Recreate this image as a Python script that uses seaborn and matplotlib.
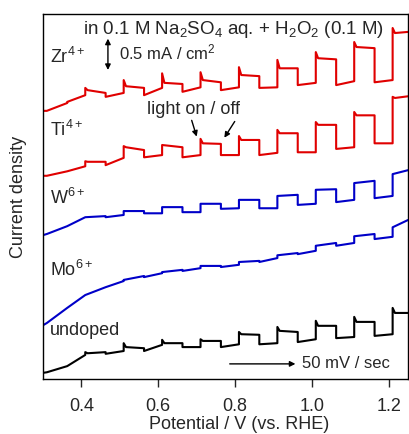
import numpy as np
import pandas as pd
import matplotlib
matplotlib.use('Agg')
import matplotlib.pyplot as plt
import seaborn as sns

sns.set_style('ticks')
plt.rcParams['font.family'] = ['Liberation Sans', 'DejaVu Sans']
plt.rcParams['mathtext.fontset'] = 'custom'
plt.rcParams['mathtext.rm'] = 'Liberation Sans'
plt.rcParams['mathtext.it'] = 'Liberation Sans'
plt.rcParams['font.size'] = 13

# chopped light: on / off potentials (V vs. RHE)
V_start = 0.30
V_on = [0.31, 0.41, 0.51, 0.61, 0.71, 0.81, 0.91, 1.01, 1.11, 1.21]
V_off = [0.363, 0.463, 0.563, 0.663, 0.763, 0.863, 0.963, 1.063, 1.163, 1.25]

# current density (mA/cm2, traces stacked with offsets)
undoped_start = 0.11
undoped_dark_on = [0.12, 0.43, 0.50, 0.61, 0.57, 0.62, 0.64, 0.71, 0.75, 0.80]
undoped_spike = [0.12, 0.48, 0.64, 0.70, 0.71, 0.84, 0.93, 1.04, 1.11, 1.27]
undoped_light_on = [0.12, 0.46, 0.57, 0.64, 0.68, 0.80, 0.86, 0.95, 1.02, 1.18]
undoped_light_off = [0.23, 0.48, 0.55, 0.64, 0.68, 0.79, 0.84, 0.95, 1.02, 1.18]
undoped_dark_off = [0.23, 0.45, 0.50, 0.57, 0.57, 0.62, 0.66, 0.73, 0.77, np.nan]

mo_start = 0.96
mo_dark_on = [1.00, 1.50, 1.75, 1.89, 1.98, 2.04, 2.16, 2.29, 2.43, 2.54]
mo_light_on = [1.00, 1.50, 1.77, 1.91, 2.02, 2.09, 2.21, 2.38, 2.55, 2.71]
mo_light_off = [1.27, 1.64, 1.84, 1.95, 2.02, 2.11, 2.25, 2.43, 2.59, 2.84]
mo_dark_off = [1.27, 1.64, 1.82, 1.93, 2.00, 2.09, 2.23, 2.38, 2.50, np.nan]

w_start = 2.57
w_dark_on = [2.59, 2.89, 2.93, 2.96, 2.98, 3.05, 3.05, 3.13, 3.20, 3.27]
w_light_on = [2.59, 2.89, 3.00, 3.07, 3.13, 3.20, 3.27, 3.38, 3.50, 3.66]
w_light_off = [2.73, 2.91, 3.00, 3.07, 3.13, 3.20, 3.29, 3.39, 3.54, 3.73]
w_dark_off = [2.73, 2.89, 2.96, 2.98, 3.04, 3.05, 3.11, 3.16, 3.23, np.nan]

ti_start = 3.63
ti_dark_on = [3.63, 3.80, 3.95, 4.00, 4.00, 4.00, 4.04, 4.05, 4.14, 4.21]
ti_spike = [3.63, 3.89, 4.16, 4.18, 4.29, 4.34, 4.45, 4.59, 4.77, 5.04]
ti_light_on = [3.63, 3.88, 4.14, 4.18, 4.21, 4.27, 4.39, 4.54, 4.71, 5.02]
ti_light_off = [3.71, 3.88, 4.09, 4.14, 4.20, 4.27, 4.39, 4.54, 4.71, 5.05]
ti_dark_off = [3.71, 3.82, 3.96, 3.96, 4.00, 4.00, 4.05, 4.11, 4.21, np.nan]

zr_start = 4.79
zr_dark_on = [4.79, 5.07, 5.11, 5.20, 5.21, 5.21, 5.21, 5.29, 5.32, 5.34]
zr_spike = [4.79, 5.20, 5.34, 5.46, 5.48, 5.57, 5.70, 5.84, 6.02, 6.27]
zr_light_on = [4.79, 5.16, 5.23, 5.29, 5.34, 5.43, 5.55, 5.73, 5.93, 6.18]
zr_light_off = [4.93, 5.11, 5.20, 5.27, 5.30, 5.41, 5.55, 5.71, 5.91, 6.20]
zr_dark_off = [4.95, 5.04, 5.07, 5.13, 5.16, 5.20, 5.25, 5.25, 5.30, np.nan]


def chopped_trace(start, dark_on, light_on, light_off, dark_off, spike=None):
    """build the vertex list of a chopped-light LSV trace"""
    if spike is None:
        spike = light_on
    V, j = [V_start], [start]
    for i in range(len(V_on)):
        V += [V_on[i], V_on[i]]
        j += [dark_on[i], spike[i]]
        if spike[i] != light_on[i]:
            V.append(V_on[i] + 0.006)
            j.append(light_on[i])
        V.append(V_off[i])
        j.append(light_off[i])
        if not np.isnan(dark_off[i]):
            V.append(V_off[i])
            j.append(dark_off[i])
    return pd.DataFrame({'V': V, 'j': j})


traces = [
    (chopped_trace(undoped_start, undoped_dark_on, undoped_light_on,
                   undoped_light_off, undoped_dark_off, undoped_spike), 'black'),
    (chopped_trace(mo_start, mo_dark_on, mo_light_on, mo_light_off, mo_dark_off), '#0000c8'),
    (chopped_trace(w_start, w_dark_on, w_light_on, w_light_off, w_dark_off), '#0000c8'),
    (chopped_trace(ti_start, ti_dark_on, ti_light_on, ti_light_off,
                   ti_dark_off, ti_spike), '#e00000'),
    (chopped_trace(zr_start, zr_dark_on, zr_light_on, zr_light_off,
                   zr_dark_off, zr_spike), '#e00000'),
]

fig, ax = plt.subplots(figsize=(4.09, 4.34), dpi=100)
fig.subplots_adjust(left=43/409, right=408/409, bottom=1-379/434, top=1-14/434)

for df, color in traces:
    sns.lineplot(data=df, x='V', y='j', sort=False, estimator=None,
                 color=color, linewidth=1.5, ax=ax)

ax.set_xlim(0.30, 1.25)
ax.set_ylim(0, 6.52)
ax.set_xticks([0.4, 0.6, 0.8, 1.0, 1.2])
ax.set_xticklabels(['0.4', '0.6', '0.8', '1.0', '1.2'])
ax.set_yticks([])
ax.tick_params(axis='x', direction='out', length=6, width=1, labelsize=13, pad=8)
for s in ax.spines.values():
    s.set_color('black')
    s.set_linewidth(1.0)

ax.set_xlabel('Potential / V (vs. RHE)', fontsize=13)
ax.set_ylabel('Current density', fontsize=13)
ax.xaxis.set_label_coords(0.537, -0.102)
ax.yaxis.set_label_coords(-0.045, 0.5)

# sample labels
for txt, y in [('Zr$^{4+}$', 5.75), ('Ti$^{4+}$', 4.45), ('W$^{6+}$', 3.23),
               ('Mo$^{6+}$', 1.95), ('undoped', 0.86)]:
    ax.text(0.318, y, txt, fontsize=13, ha='left', va='center')

ax.text(0.404, 6.24, 'in 0.1 M Na$_2$SO$_4$ aq. + H$_2$O$_2$ (0.1 M)',
        fontsize=13.5, ha='left', va='center')

# scale bar
ax.annotate('', xy=(0.469, 5.52), xytext=(0.469, 6.08),
            arrowprops=dict(arrowstyle='<|-|>', color='black', lw=1.0,
                            mutation_scale=8, shrinkA=0, shrinkB=0))
ax.text(0.497, 5.84, '0.5 mA / cm$^2$', fontsize=12, ha='left', va='center')

# light on / off arrows
ax.text(0.570, 4.82, 'light on / off', fontsize=13, ha='left', va='center')
ax.annotate('', xy=(0.700, 4.33), xytext=(0.687, 4.62),
            arrowprops=dict(arrowstyle='-|>', color='black', lw=1.0,
                            mutation_scale=8, shrinkA=0, shrinkB=0))
ax.annotate('', xy=(0.772, 4.31), xytext=(0.799, 4.60),
            arrowprops=dict(arrowstyle='-|>', color='black', lw=1.0,
                            mutation_scale=8, shrinkA=0, shrinkB=0))

# scan rate
ax.annotate('', xy=(0.957, 0.27), xytext=(0.786, 0.27),
            arrowprops=dict(arrowstyle='-|>', color='black', lw=1.0,
                            mutation_scale=8, shrinkA=0, shrinkB=0))
ax.text(0.973, 0.27, '50 mV / sec', fontsize=12, ha='left', va='center')

plt.savefig('out.png', dpi=100, facecolor='white')
plt.close()
